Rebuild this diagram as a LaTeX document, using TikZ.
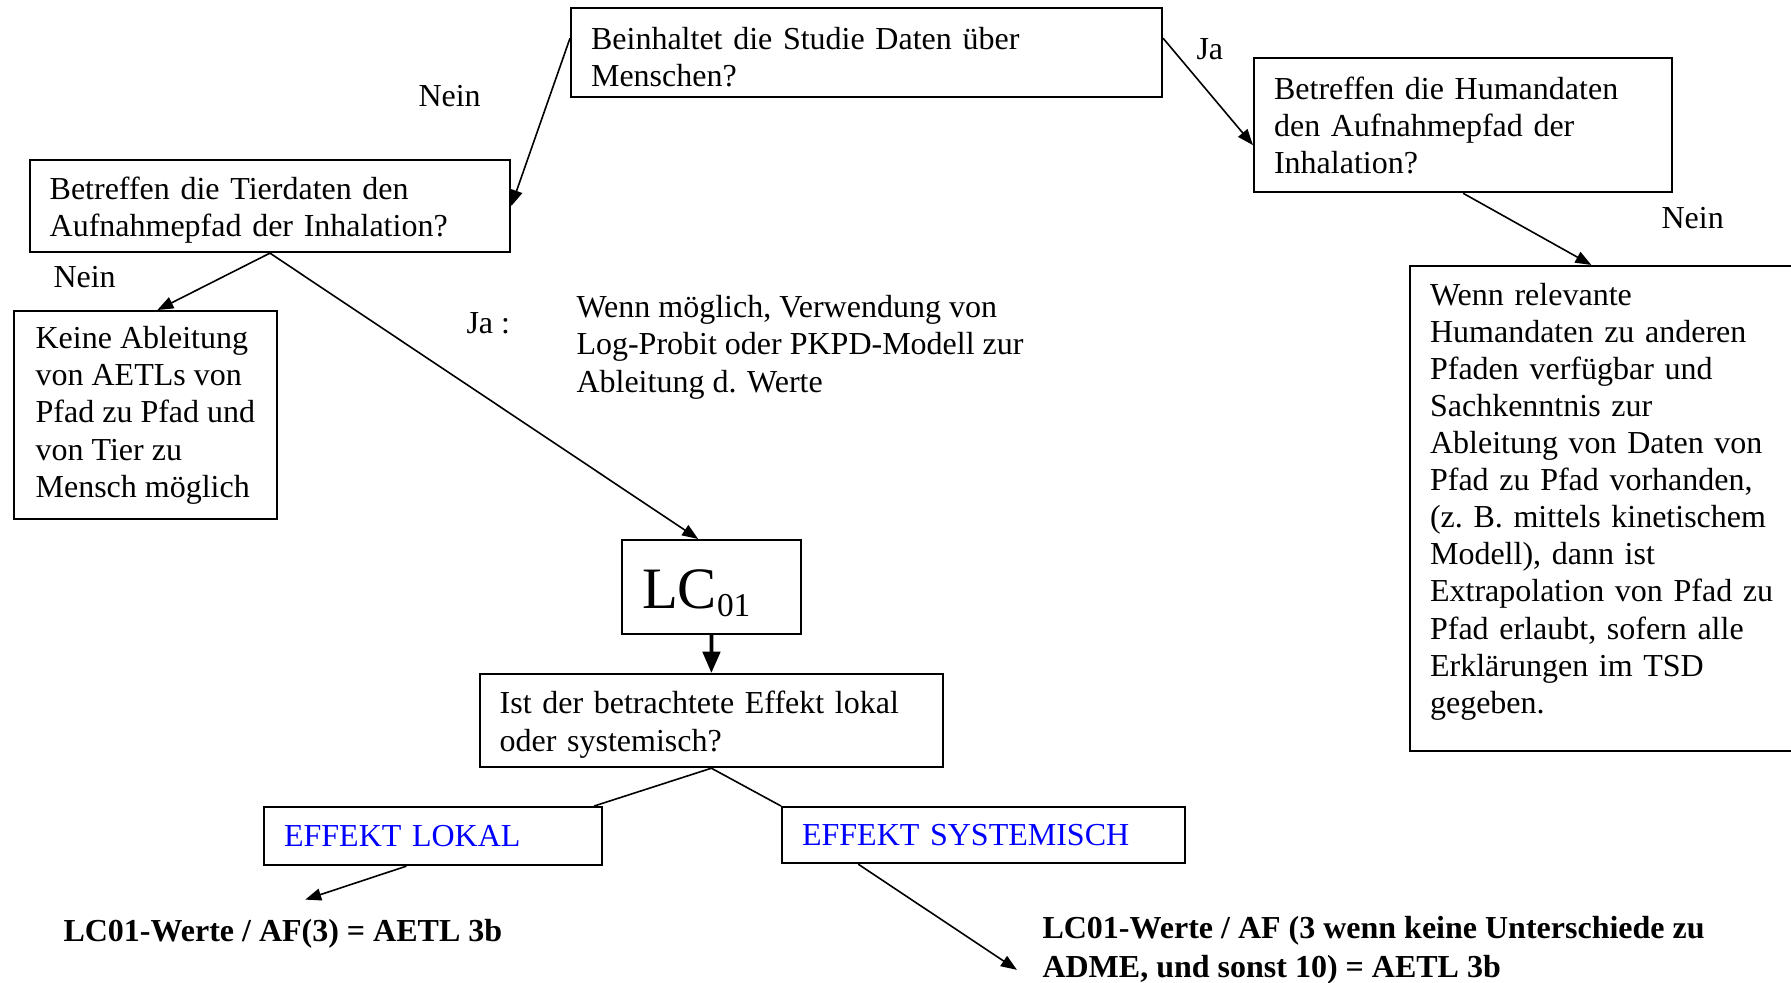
\documentclass[tikz,border=0pt]{standalone}
\usepackage{fontspec}
\setmainfont{Liberation Serif}
\usepackage{xcolor}
\usepackage{tikz}
\usetikzlibrary{arrows.meta,positioning}

\newcommand{\boxfont}{\fontsize{12}{13.9}\selectfont}
\newcommand{\topgap}{\rule{0pt}{11.5pt}}

\begin{document}
\begin{tikzpicture}[
    x=0.375pt, y=-0.375pt,
    box/.style={rectangle, draw, line width=0.8pt, anchor=north west, align=left, inner xsep=7.5pt, inner ysep=0pt, font=\boxfont},
    lbl/.style={anchor=base west, inner sep=0pt, align=left, font=\boxfont},
    result/.style={anchor=base west, inner sep=0pt, align=left, font=\fontsize{12}{14.6}\selectfont\bfseries},
    flow/.style={-{Triangle[length=6pt, width=4.5pt]}, line width=0.6pt},
]
\useasboundingbox (0,0) rectangle (1791,983);

% Questions
\node[box, text width=206.6pt, minimum height=33.4pt] (humanq) at (570,7) {\topgap Beinhaltet die Studie Daten über\\Menschen?};
\node[box, text width=165.2pt, minimum height=34.5pt] (tierq) at (28.6,159) {\topgap Betreffen die Tierdaten den\\Aufnahmepfad der Inhalation?};
\node[box, text width=141.8pt, minimum height=50.3pt] (inhalq) at (1253,57) {Betreffen die Humandaten\\den Aufnahmepfad der\\Inhalation?};

% Right branch
\node[box, text width=133pt, minimum height=181.9pt] (extrap) at (1409,265) {Wenn relevante\\Humandaten zu anderen\\Pfaden verfügbar und\\Sachkenntnis zur\\Ableitung von Daten von\\Pfad zu Pfad vorhanden,\\(z.~B. mittels kinetischem\\Modell), dann ist\\Extrapolation von Pfad zu\\Pfad erlaubt, sofern alle\\Erklärungen im TSD\\gegeben.\rule[-7.8pt]{0pt}{0pt}};

% Left branch
\node[box, minimum width=98.8pt, minimum height=78pt, font=\fontsize{12}{14}\selectfont] (noderiv) at (12.6,310) {Keine Ableitung\\von AETLs von\\Pfad zu Pfad und\\von Tier zu\\Mensch möglich};
\node[lbl, font=\fontsize{12}{14}\selectfont] (loghint) at (576,392) {Wenn möglich, Verwendung von\\Log-Probit oder PKPD-Modell zur\\Ableitung d. Werte};
\node[box, text width=52.1pt, minimum height=35.25pt, font=\fontsize{22}{26}\selectfont] (lc) at (621,539) {\rule{0pt}{19pt}LC\raisebox{-3pt}{\fontsize{12.5}{13}\selectfont 01}};
\node[box, text width=158.8pt, minimum height=34.9pt] (effq) at (478.6,673) {\topgap Ist der betrachtete Effekt lokal\\oder systemisch?};
\node[box, text width=111.8pt, minimum height=21.75pt, text=blue] (lokal) at (263,806) {EFFEKT LOKAL};
\node[box, text width=136.1pt, minimum height=21pt, text=blue] (system) at (781,806) {EFFEKT SYSTEMISCH};

% Results
\node[result] (reslokal) at (63,941) {LC01-Werte / AF(3) = AETL 3b};
\node[result] (ressys) at (1042,977) {LC01-Werte / AF (3 wenn keine Unterschiede zu\\ADME, und sonst 10) = AETL 3b};

% Labels
\node[lbl] (nein1) at (418,106) {Nein};
\node[lbl] (ja1) at (1196,59) {Ja};
\node[lbl] (nein2) at (1661,228) {Nein};
\node[lbl] (nein3) at (53,287) {Nein};
\node[lbl] (ja2) at (466,333) {Ja :};

% Arrows
\draw[flow] ([yshift=5.4pt]humanq.west) -- (tierq.east);
\draw[flow] ([yshift=5.4pt]humanq.east) -- ([yshift=-7.5pt]inhalq.west);
\draw[flow] (inhalq.south) -- ([xshift=-6pt]extrap.north);
\draw[flow] (tierq.south) -- ([xshift=4.5pt]noderiv.north);
\draw[flow] (tierq.south) -- ([xshift=-5pt]lc.north);
\draw[flow, line width=1.4pt, -{Triangle[length=8pt, width=6.5pt]}] (lc.south) -- (effq.north);
\draw[line width=0.6pt] (effq.south) -- ([xshift=-3.4pt]lokal.north east);
\draw[line width=0.6pt] (effq.south) -- (system.north west);
\draw[flow] ([xshift=-10pt]lokal.south) -- ([xshift=8.4pt, yshift=7pt]reslokal.north);
\draw[flow] ([xshift=-47pt]system.south) -- ([xshift=-9.4pt, yshift=-7.5pt]ressys.west);

\end{tikzpicture}
\end{document}
